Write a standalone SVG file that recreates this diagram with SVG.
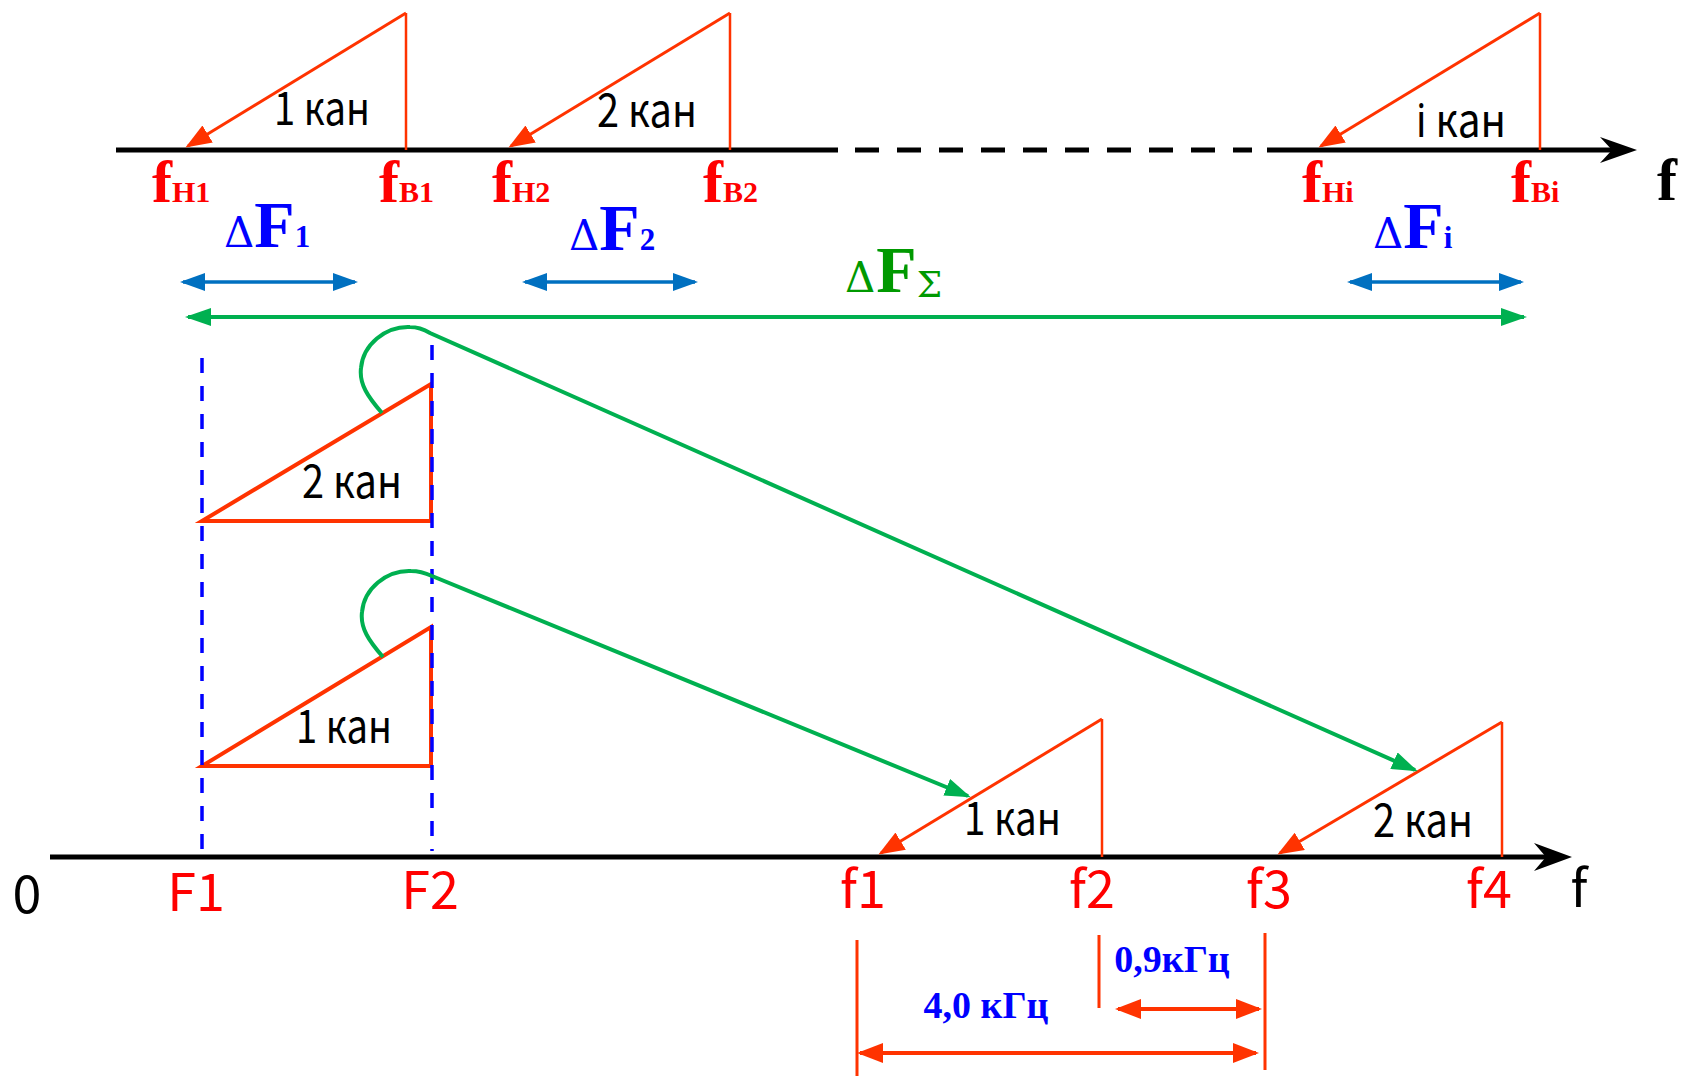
<svg xmlns="http://www.w3.org/2000/svg" width="1684" height="1076" viewBox="0 0 1684 1076">
<style>
.k{font-family:"Noto Sans CJK SC","Noto Sans",sans-serif;font-size:46px;fill:#000}
.n{font-family:"Noto Sans CJK SC","Noto Sans",sans-serif;font-size:52px;fill:#FF0000;text-anchor:middle}
.fr{font-family:"Liberation Serif",serif;font-weight:bold;font-size:60px;fill:#FF0000}
.sub{font-size:30px}
.dl{font-family:"Liberation Serif",serif;fill:#0000FF}
.dg{font-family:"Liberation Serif",serif;fill:#009900}
.gr{font-family:"DejaVu Serif",serif;font-weight:normal}
.khz{font-family:"Liberation Serif",serif;font-weight:bold;font-size:38px;fill:#0000FF;text-anchor:middle}
.red{stroke:#FF3300;fill:none}
.ax{stroke:#000;stroke-width:5;fill:none}
.gl{stroke:#00B050;stroke-width:4;fill:none}
.bl{stroke:#0070C0;stroke-width:3.5;fill:none}
</style>
<defs>
<marker id="ar" markerUnits="userSpaceOnUse" markerWidth="26" markerHeight="20" refX="23" refY="10" orient="auto-start-reverse"><path d="M0,0 L26,10 L0,20 z" fill="#FF3300"/></marker>
<marker id="ab" markerUnits="userSpaceOnUse" markerWidth="25" markerHeight="18" refX="22" refY="9" orient="auto-start-reverse"><path d="M0,0 L25,9 L0,18 z" fill="#0070C0"/></marker>
<marker id="ag" markerUnits="userSpaceOnUse" markerWidth="26" markerHeight="18" refX="23" refY="9" orient="auto-start-reverse"><path d="M0,0 L26,9 L0,18 z" fill="#00B050"/></marker>
</defs>

<g id="top-axis">
<path class="ax" d="M116,150 H838 M1267,150 H1612"/>
<path class="ax" d="M855,150 H1252" stroke-dasharray="24 18"/>
<polygon points="1637,150 1600,137 1612,150 1600,163" fill="#000"/>
<text class="fr" x="1657" y="200" style="fill:#000">f</text>
</g>

<g id="top-ch1">
<path class="red" stroke-width="3" d="M406,13 L188,146" marker-end="url(#ar)"/>
<path class="red" stroke-width="2.5" d="M406,13 V150"/>
<text class="k" x="274" y="125" textLength="96" lengthAdjust="spacingAndGlyphs">1 кан</text>
</g>
<g id="top-ch2">
<path class="red" stroke-width="3" d="M730,13 L511,146" marker-end="url(#ar)"/>
<path class="red" stroke-width="2.5" d="M730,13 V150"/>
<text class="k" x="597" y="127" textLength="100" lengthAdjust="spacingAndGlyphs">2 кан</text>
</g>
<g id="top-chi">
<path class="red" stroke-width="3" d="M1540,13 L1321,146" marker-end="url(#ar)"/>
<path class="red" stroke-width="2.5" d="M1540,13 V150"/>
<text class="k" x="1416" y="137" textLength="90" lengthAdjust="spacingAndGlyphs">і кан</text>
</g>

<g id="top-labels">
<text class="fr" x="152" y="202">f<tspan class="sub">Н1</tspan></text>
<text class="fr" x="379" y="202">f<tspan class="sub">В1</tspan></text>
<text class="fr" x="492" y="202">f<tspan class="sub">Н2</tspan></text>
<text class="fr" x="703" y="202">f<tspan class="sub">В2</tspan></text>
<text class="fr" x="1302" y="202">f<tspan class="sub">Нi</tspan></text>
<text class="fr" x="1511" y="202">f<tspan class="sub">Вi</tspan></text>
</g>

<g id="dF1">
<text class="dl" x="224" y="247"><tspan class="gr" font-size="42">Δ</tspan><tspan font-size="66" font-weight="bold">F</tspan><tspan font-size="31" font-weight="bold">1</tspan></text>
</g>
<g id="dF2">
<text class="dl" x="569" y="250"><tspan class="gr" font-size="42">Δ</tspan><tspan font-size="66" font-weight="bold">F</tspan><tspan font-size="31" font-weight="bold">2</tspan></text>
</g>
<g id="dFi">
<text class="dl" x="1373" y="248"><tspan class="gr" font-size="42">Δ</tspan><tspan font-size="66" font-weight="bold">F</tspan><tspan font-size="31" font-weight="bold">i</tspan></text>
</g>
<g id="dFsum">
<text class="dg" x="845" y="292"><tspan class="gr" font-size="42">Δ</tspan><tspan dx="1" font-size="66" font-weight="bold">F</tspan><tspan class="gr" dy="5" font-size="36">Σ</tspan></text>
</g>

<g id="left-ch2">
<polygon class="red" stroke-width="4" points="202,521 431,384 431,521"/>
<text class="k" x="302" y="498" textLength="100" lengthAdjust="spacingAndGlyphs">2 кан</text>
</g>
<g id="left-ch1">
<polygon class="red" stroke-width="4" points="202,766 431,627 431,766"/>
<text class="k" x="296" y="743" textLength="96" lengthAdjust="spacingAndGlyphs">1 кан</text>
</g>

<g id="bottom-axis">
<path class="ax" d="M50,857 H1548"/>
<polygon points="1572,857 1534,843 1546,857 1534,871" fill="#000"/>
<text class="n" x="27" y="913" style="fill:#000">0</text>
<text class="n" x="196" y="911">F1</text>
<text class="n" x="430" y="909">F2</text>
<text class="n" x="863" y="908">f1</text>
<text class="n" x="1092" y="908">f2</text>
<text class="n" x="1269" y="908">f3</text>
<text class="n" x="1489" y="908">f4</text>
<text class="n" x="1579" y="907" style="fill:#000">f</text>
</g>

<g id="bottom-ch1">
<path class="red" stroke-width="3" d="M1102,719 L881,853" marker-end="url(#ar)"/>
<path class="red" stroke-width="2.5" d="M1102,719 V857"/>
<text class="k" x="964" y="835" textLength="97" lengthAdjust="spacingAndGlyphs">1 кан</text>
</g>
<g id="bottom-ch2">
<path class="red" stroke-width="3" d="M1502,722 L1280,853" marker-end="url(#ar)"/>
<path class="red" stroke-width="2.5" d="M1502,722 V857"/>
<text class="k" x="1373" y="837" textLength="100" lengthAdjust="spacingAndGlyphs">2 кан</text>
</g>

<g id="connectors">
<path class="bl" d="M183,282 H355" marker-start="url(#ab)" marker-end="url(#ab)"/>
<path class="bl" d="M525,282 H695" marker-start="url(#ab)" marker-end="url(#ab)"/>
<path class="bl" d="M1350,282 H1521" marker-start="url(#ab)" marker-end="url(#ab)"/>
<path class="gl" d="M188,317 H1524" marker-start="url(#ag)" marker-end="url(#ag)"/>
<path d="M202,358 V861 M432,345 V851" stroke="#0000FF" stroke-width="3.5" stroke-dasharray="15 13" fill="none"/>
<path class="gl" d="M382,413 C368,397 359,384 361,368 C363,345 385,326 410,327 Q420,327 430,333 L1415,770" marker-end="url(#ag)"/>
<path class="gl" d="M383,657 C369,641 360,628 362,612 C364,589 386,570 411,571 Q421,571 432,576 L968,796" marker-end="url(#ag)"/>
</g>

<g id="dimensions">
<path class="red" stroke-width="3" d="M857,940 V1076 M1099,935 V1008 M1265,933 V1070"/>
<path class="red" stroke-width="4" d="M1118,1009 H1259" marker-start="url(#ar)" marker-end="url(#ar)"/>
<path class="red" stroke-width="4" d="M860,1053 H1256" marker-start="url(#ar)" marker-end="url(#ar)"/>
<text class="khz" x="1172" y="972">0,9кГц</text>
<text class="khz" x="986" y="1018">4,0 кГц</text>
</g>
</svg>
